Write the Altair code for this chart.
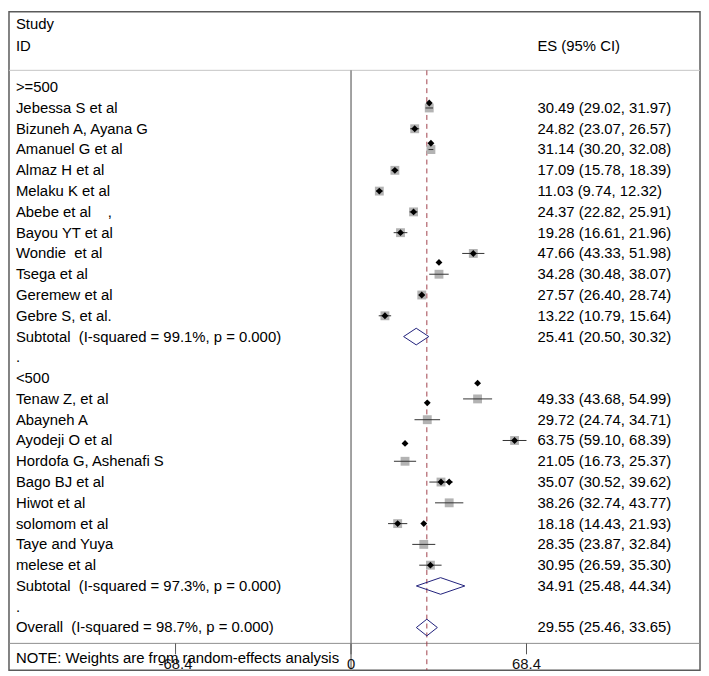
import altair as alt
import pandas as pd

NB = "\u00a0"

# ---------------- data ----------------
group_labels = [">=500", "<500"]

studies_a = ["Jebessa S et al", "Bizuneh A, Ayana G", "Amanuel G et al", "Almaz H et al",
             "Melaku K et al", "Abebe et al" + NB * 4 + ",", "Bayou YT et al", "Wondie" + NB + " et al",
             "Tsega et al", "Geremew et al", "Gebre S, et al."]
es_a = [30.49, 24.82, 31.14, 17.09, 11.03, 24.37, 19.28, 47.66, 34.28, 27.57, 13.22]
lo_a = [29.02, 23.07, 30.20, 15.78, 9.74, 22.82, 16.61, 43.33, 30.48, 26.40, 10.79]
hi_a = [31.97, 26.57, 32.08, 18.39, 12.32, 25.91, 21.96, 51.98, 38.07, 28.74, 15.64]
dot_shift_a = [-0.24, 0, -0.3, 0, 0, 0, 0, 0, -0.57, 0, 0]

studies_b = ["Tenaw Z, et al", "Abayneh A", "Ayodeji O et al", "Hordofa G, Ashenafi S",
             "Bago BJ et al", "Hiwot et al", "solomom et al", "Taye and Yuya", "melese et al"]
es_b = [49.33, 29.72, 63.75, 21.05, 35.07, 38.26, 18.18, 28.35, 30.95]
lo_b = [43.68, 24.74, 59.10, 16.73, 30.52, 32.74, 14.43, 23.87, 26.59]
hi_b = [54.99, 34.71, 68.39, 25.37, 39.62, 43.77, 21.93, 32.84, 35.30]
dot_shift_b = [-0.76, -0.81, 0, -0.86, 0, -1.0, 0, -1.0, 0]

pooled_labels = ["Subtotal" + NB + " (I-squared = 99.1%, p = 0.000)",
                 "Subtotal" + NB + " (I-squared = 97.3%, p = 0.000)",
                 "Overall" + NB + " (I-squared = 98.7%, p = 0.000)"]
pooled_es = [25.41, 34.91, 29.55]
pooled_lo = [20.50, 25.48, 25.46]
pooled_hi = [30.32, 44.34, 33.65]

tick_values = [-68.4, 0, 68.4]
tick_labels = ["-68.4", "0", "68.4"]
null_value = [0]
note_text = "NOTE: Weights are from random-effects analysis"
header_left = ["Study", "ID"]
header_right = "ES (95% CI)"

# ---------------- build tables ----------------
def es_str(e, l, h):
    return f"{e:.2f} ({l:.2f}, {h:.2f})"

text_rows = []
study_rows = []
pooled_rows = []
r = 0
groups = [(studies_a, es_a, lo_a, hi_a, dot_shift_a), (studies_b, es_b, lo_b, hi_b, dot_shift_b)]
for gi, (names, es, lo, hi, sh) in enumerate(groups):
    text_rows.append({"row": r, "label": group_labels[gi], "est": ""})
    r += 1
    for n, e, l, h, s in zip(names, es, lo, hi, sh):
        text_rows.append({"row": r, "label": n, "est": es_str(e, l, h)})
        study_rows.append({"row": r, "es": e, "lo": l, "hi": h, "dotrow": r + s})
        r += 1
    text_rows.append({"row": r, "label": pooled_labels[gi],
                      "est": es_str(pooled_es[gi], pooled_lo[gi], pooled_hi[gi])})
    pooled_rows.append((gi, r))
    r += 1
    text_rows.append({"row": r, "label": ".", "est": ""})
    r += 1
text_rows.append({"row": r, "label": pooled_labels[2],
                  "est": es_str(pooled_es[2], pooled_lo[2], pooled_hi[2])})
pooled_rows.append((2, r))
n_last = r

diamond_pts = []
for k, rr in pooled_rows:
    e, l, h = pooled_es[k], pooled_lo[k], pooled_hi[k]
    pts = [(l, rr), (e, rr - 0.4), (h, rr), (e, rr + 0.4), (l, rr)]
    for o, (x, y) in enumerate(pts):
        diamond_pts.append({"grp": k, "o": o, "x": x, "y": y})

df_text = pd.DataFrame(text_rows)
df_study = pd.DataFrame(study_rows)
df_dia = pd.DataFrame(diamond_pts)
df_ticks = pd.DataFrame({"v": tick_values, "lab": tick_labels})
df_null = pd.DataFrame({"v": null_value})
df_overall = pd.DataFrame({"v": [pooled_es[2]]})
df_one = pd.DataFrame({"a": [0]})
df_head = pd.DataFrame({"t": header_left, "yy": [12, 34]})

W, H = 697, 664
FONT = "Liberation Sans"
FS = 15

xs = alt.Scale(domain=[-68.4, 68.4], range=[168, 522], nice=False, zero=False)
ys = alt.Scale(domain=[0, n_last], range=[76, 621], nice=False, zero=False)

def X(f):
    return alt.X(f, type="quantitative", scale=xs, axis=None)

def Y(f):
    return alt.Y(f, type="quantitative", scale=ys, axis=None)

header_line = alt.Chart(df_one).mark_rule(color="#c4c4c4", strokeWidth=1).encode(
    x=alt.value(0), x2=alt.value(W), y=alt.value(59))
bottom_line = alt.Chart(df_one).mark_rule(color="#8e8e8e", strokeWidth=1).encode(
    x=alt.value(0), x2=alt.value(W), y=alt.value(637))
null_line = alt.Chart(df_null).mark_rule(color="#8a8a8a", strokeWidth=1.6).encode(
    x=X("v"), y=alt.value(59), y2=alt.value(H))
overall_line = alt.Chart(df_overall).mark_rule(color="#a0404a", strokeWidth=1, strokeDash=[5, 4]).encode(
    x=X("v"), y=alt.value(59), y2=alt.value(H))
ticks = alt.Chart(df_ticks).mark_rule(color="#555555", strokeWidth=1).encode(
    x=X("v"), y=alt.value(637), y2=alt.value(648))
tick_text = alt.Chart(df_ticks).mark_text(font=FONT, fontSize=FS, color="#111111",
                                          align="center", baseline="middle").encode(
    x=X("v"), y=alt.value(658), text="lab:N")

squares = alt.Chart(df_study).mark_square(color="#b3b3b3", opacity=1, size=80).encode(
    x=X("es"), y=Y("row"))
ci = alt.Chart(df_study).mark_rule(color="#333333", strokeWidth=1).encode(
    x=X("lo"), x2="hi:Q", y=Y("row"))
dots = alt.Chart(df_study).mark_point(shape="diamond", filled=True, color="black",
                                      opacity=1, size=48).encode(
    x=X("es"), y=Y("dotrow"))
diamonds = alt.Chart(df_dia).mark_line(color="#1f1f7a", strokeWidth=1).encode(
    x=X("x"), y=Y("y"), detail="grp:N", order="o:Q")

labels = alt.Chart(df_text).mark_text(font=FONT, fontSize=FS, color="black",
                                      align="left", baseline="middle").encode(
    x=alt.value(7), y=Y("row"), text="label:N")
ests = alt.Chart(df_text).mark_text(font=FONT, fontSize=FS, color="black",
                                    align="left", baseline="middle").encode(
    x=alt.value(533), y=Y("row"), text="est:N")
head_l = alt.Chart(df_head).mark_text(font=FONT, fontSize=FS, color="black",
                                      align="left", baseline="middle").encode(
    x=alt.value(7), y=alt.Y("yy:Q", scale=None, axis=None), text="t:N")
head_r = alt.Chart(df_one).mark_text(font=FONT, fontSize=FS, color="black",
                                     align="left", baseline="middle", text=header_right).encode(
    x=alt.value(533), y=alt.value(34))
note = alt.Chart(df_one).mark_text(font=FONT, fontSize=FS, color="black",
                                   align="left", baseline="middle", text=note_text).encode(
    x=alt.value(7), y=alt.value(652))

chart = alt.layer(
    header_line, bottom_line, null_line, overall_line, ticks,
    squares, ci, dots, diamonds, tick_text,
    labels, ests, head_l, head_r, note
).properties(
    width=W, height=H,
    autosize=alt.AutoSizeParams(type="none"),
    padding={"left": 1, "top": 1, "right": 1, "bottom": 1},
    background="white"
).configure_view(stroke="#5a5a5a", strokeWidth=1.5)

chart.save("out.html", embed_options={"renderer": "svg", "actions": False})
